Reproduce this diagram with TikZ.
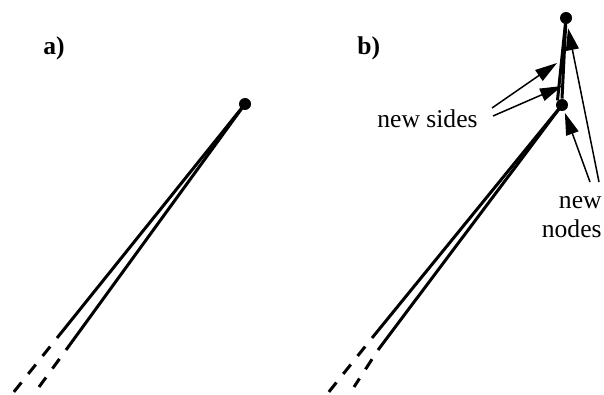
\documentclass[tikz,border=0pt]{standalone}
\usepackage{fontspec}
\setmainfont{Liberation Serif}
\usetikzlibrary{arrows.meta}

\begin{document}
\begin{tikzpicture}[x=0.5pt, y=-0.5pt,
  font=\fontsize{12.8}{14.5}\selectfont,
  side/.style={line width=1.5pt},
  tail/.style={line width=1.5pt, dash pattern=on 6pt off 5.5pt, dash phase=6pt},
  dot/.style={circle, fill, inner sep=0pt, minimum size=6pt},
  pointer/.style={line width=0.75pt, -{Triangle[length=11pt,width=6.5pt]}},
  tag/.style={font=\fontsize{12.8}{14.5}\selectfont\bfseries, anchor=base west, inner sep=0pt},
  note/.style={align=right, inner sep=0pt}
]
\useasboundingbox (0,0) rectangle (604,395);

% a) the corner before refinement
\node[tag] (taga) at (43,55) {a)};
\node[dot] (tipA) at (245,104) {};
\coordinate (aL) at (57,338);
\coordinate (aR) at (66,350);
\coordinate (aLend) at (13,393);
\coordinate (aRend) at (39,387);
\draw[side] (aL) -- (tipA.center);
\draw[side] (aR) -- (tipA.center);
\draw[tail] (aL) -- (aLend);
\draw[tail] (aR) -- (aRend);

% b) the same corner with new nodes and sides
\node[tag] (tagb) at (357,55) {b)};
\node[dot] (lowB) at (562,105) {};
\node[dot] (topB) at (566,18) {};
\coordinate (bL) at (372,338);
\coordinate (bR) at (378,350);
\coordinate (bLend) at (328,393);
\coordinate (bRend) at (354,387);
\draw[side] (bL) -- (lowB.center);
\draw[side] (bR) -- (lowB.center);
\draw[tail] (bL) -- (bLend);
\draw[tail] (bR) -- (bRend);
\draw[side] (lowB.north west) -- (topB.center);
\draw[side] (lowB.north) -- (topB.center);

\node[note, anchor=base east] (sides) at (478,128) {new sides};
\coordinate (ns1) at (492,108);
\coordinate (ns2) at (493,116);
\coordinate (hit1) at (557,63);
\coordinate (hit2) at (562,86);
\draw[pointer] (ns1) -- (hit1);
\draw[pointer] (ns2) -- (hit2);

\node[note, anchor=base east] (nodes) at (602,237) {new\\nodes};
\coordinate (nn1) at (590,182);
\coordinate (nn2) at (599,182);
\draw[pointer, shorten >=1pt] (nn1) -- (lowB);
\draw[pointer, shorten >=2pt] (nn2) -- (topB);
\end{tikzpicture}
\end{document}
